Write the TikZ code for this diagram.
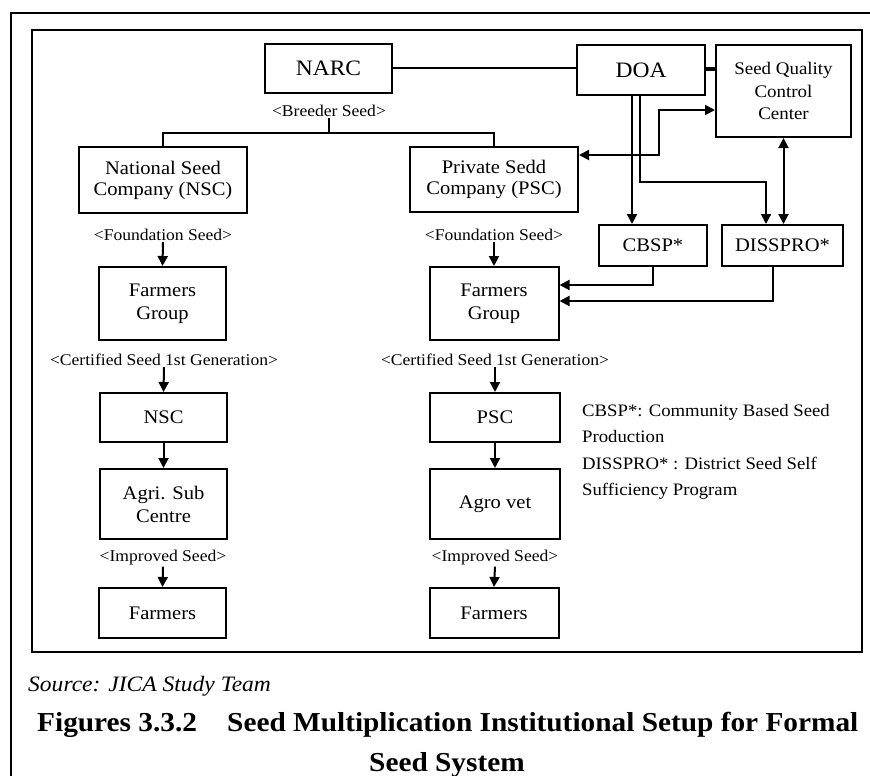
\documentclass[tikz,border=0pt]{standalone}
\usepackage{fontspec}
\setmainfont{Liberation Serif}[FakeStretch=1.07]
\usetikzlibrary{arrows.meta}

\tikzset{
  box/.style={draw, line width=2pt, inner sep=0pt, align=center,
              font=\fontsize{19.2pt}{23pt}\selectfont},
  bigbox/.style={box, font=\fontsize{22pt}{25pt}\selectfont},
  lab/.style={inner sep=1pt, font=\fontsize{16.4pt}{18pt}\selectfont},
  legend/.style={inner sep=0pt, anchor=base west, font=\fontsize{17.5pt}{20pt}\selectfont},
  link/.style={line width=2pt},
  arr/.style={link, -{Triangle[length=10pt,width=10pt]}},
  darr/.style={link, {Triangle[length=10pt,width=10pt]}-{Triangle[length=10pt,width=10pt]}},
}

\begin{document}
\begin{tikzpicture}[x=1pt, y=-1pt]
\useasboundingbox (0,0) rectangle (870,776);

% page frame and figure frame
\draw[line width=1.8pt] (11,790) -- (11,13) -- (880,13);
\draw[line width=2pt] (32,30) rectangle (862,652);

% top level
\node[bigbox, minimum width=127pt, minimum height=49pt] (narc) at (328.5,68.5) {NARC};
\node[bigbox, minimum width=128pt, minimum height=50pt] (doa) at (641,70) {DOA};
\node[box, minimum width=135pt, minimum height=92pt,
      font=\fontsize{17.7pt}{22.5pt}\selectfont] (sqcc) at (783.5,91) {Seed Quality\\Control\\Center};

\node[lab] (breeder) at (329,111) {<Breeder Seed>};

% companies
\node[box, minimum width=168pt, minimum height=66pt,
      font=\fontsize{19.2pt}{21pt}\selectfont] (nsc) at (163,180) {National Seed\\Company (NSC)};
\node[box, minimum width=168pt, minimum height=65pt,
      font=\fontsize{19.2pt}{21pt}\selectfont] (psc) at (494,179.5) {Private Sedd\\Company (PSC)};

\node[box, minimum width=108pt, minimum height=41pt] (cbsp) at (653,245.5) {CBSP*};
\node[box, minimum width=121pt, minimum height=41pt] (dissp) at (782.5,245.5) {DISSPRO*};

\node[lab] (fdL) at (163,235) {<Foundation Seed>};
\node[lab] (fdR) at (494,235) {<Foundation Seed>};

% farmers groups
\node[box, minimum width=127pt, minimum height=73pt] (fgL) at (162.5,303.5) {Farmers\\Group};
\node[box, minimum width=129pt, minimum height=73pt] (fgR) at (494,303.5) {Farmers\\Group};

\node[lab] (ctL) at (164,360) {<Certified Seed 1st Generation>};
\node[lab] (ctR) at (495,360) {<Certified Seed 1st Generation>};

% distributors
\node[box, minimum width=127pt, minimum height=49pt] (nscS) at (163.5,417.5) {NSC};
\node[box, minimum width=130pt, minimum height=49pt] (pscS) at (495,417.5) {PSC};
\node[box, minimum width=127pt, minimum height=70pt] (agri) at (163.5,504) {Agri. Sub\\Centre};
\node[box, minimum width=130pt, minimum height=70pt] (agro) at (495,504) {Agro vet};

\node[lab] (imL) at (163,558) {<Improved Seed>};
\node[lab] (imR) at (495,558) {<Improved Seed>};

\node[box, minimum width=127pt, minimum height=50pt] (faL) at (162.5,613) {Farmers};
\node[box, minimum width=129pt, minimum height=50pt] (faR) at (494,613) {Farmers};

% legend
\node[legend] (lg1) at (582,416) {CBSP*: Community Based Seed};
\node[legend] (lg2) at (582,442.5) {Production};
\node[legend] (lg3) at (582,469) {DISSPRO* : District Seed Self};
\node[legend] (lg4) at (582,495.7) {Sufficiency Program};

% connectors at the top
\draw[link] (narc.east) -- (narc.east -| doa.west);
\draw[line width=3.5pt] ([yshift=1pt]doa.east) -- ([yshift=1pt]doa.east -| sqcc.west);
\coordinate (bj) at (329,133);
\draw[link] (breeder.south) -- (bj);
\draw[link] (nsc.north) |- (bj) -| (psc.north);
\draw[darr] ([yshift=24.5pt]psc.east) -- ++(80,0) |- ([yshift=-19pt]sqcc.west);
\draw[arr] ([xshift=-9pt]doa.south) -- ([xshift=-9pt]doa.south |- cbsp.north);
\coordinate (dj) at (766,182);
\draw[arr] ([xshift=-1pt]doa.south) |- (dj) -- (dj |- dissp.north);
\draw[darr] (sqcc.south) -- (sqcc.south |- dissp.north);
\draw[arr] (cbsp.south) |- ([yshift=18.5pt]fgR.east);
\draw[arr] ([xshift=-9.5pt]dissp.south) |- ([yshift=2.5pt]fgR.east);

% seed flow
\draw[arr] (fdL.south) -- (fgL.north);
\draw[arr] (fdR.south) -- (fgR.north);
\draw[arr] (ctL.south) -- (nscS.north);
\draw[arr] (ctR.south) -- (pscS.north);
\draw[arr] (nscS.south) -- (agri.north);
\draw[arr] (pscS.south) -- (agro.north);
\draw[arr] (imL.south) -- (faL.north);
\draw[arr] (imR.south) -- (faR.north);

% source and caption
\node[inner sep=0pt, anchor=base west, font=\fontsize{22pt}{24pt}\selectfont\itshape] (src) at (28,691) {Source: JICA Study Team};
\node[inner sep=0pt, anchor=base west, font=\fontsize{27.4pt}{30pt}\selectfont\bfseries] (cap1) at (37,731) {Figures 3.3.2};
\node[inner sep=0pt, anchor=base west, font=\fontsize{27.4pt}{30pt}\selectfont\bfseries] (cap2) at (227,731) {Seed Multiplication Institutional Setup for Formal};
\node[inner sep=0pt, anchor=base, font=\fontsize{27.4pt}{30pt}\selectfont\bfseries] (cap3) at (447,771) {Seed System};
\end{tikzpicture}
\end{document}
